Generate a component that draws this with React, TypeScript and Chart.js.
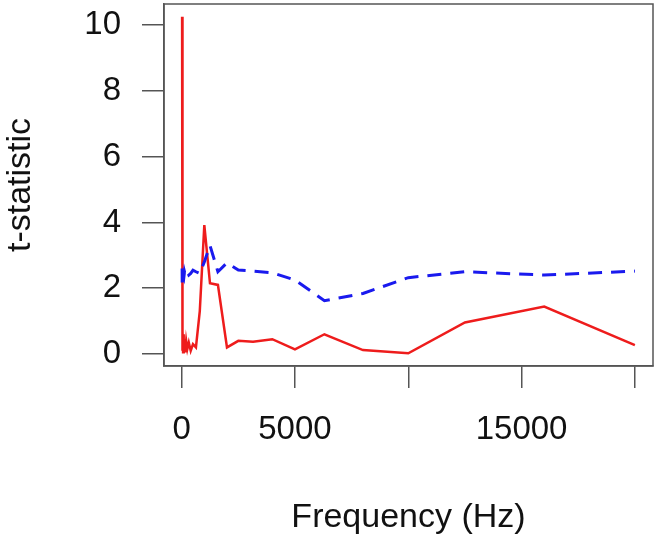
import React, { useEffect, useRef } from "react";
import { Chart, registerables } from "chart.js";

Chart.register(...registerables);

const frequencies = [20, 25, 31.5, 40, 50, 63, 80, 100, 125, 160, 200, 250, 315, 400, 500, 630, 800, 1000, 1250, 1600, 2000, 2500, 3150, 4000, 5000, 6300, 8000, 10000, 12500, 16000, 20000];
const redValues = [10.25, 0.9, 3.85, 0.1, 0.7, 0.05, 0.6, 0.1, 0.45, 0.05, 0.4, 0.15, 0.35, 0.1, 0.3, 0.2, 1.3, 3.92, 2.15, 2.1, 0.2, 0.4, 0.37, 0.45, 0.14, 0.6, 0.12, 0.02, 0.96, 1.44, 0.27];
const blueValues = [2.6, 2.15, 2.5, 2.2, 2.45, 2.3, 2.4, 2.35, 2.5, 2.4, 2.45, 2.5, 2.4, 2.45, 2.55, 2.5, 2.45, 2.8, 3.3, 2.5, 2.77, 2.55, 2.52, 2.47, 2.25, 1.62, 1.84, 2.32, 2.5, 2.4, 2.52];
const xTicks = [0, 5000, 10000, 15000, 20000];
const xTickLabels = ["0", "5000", "", "15000", ""];
const yTicks = [0, 2, 4, 6, 8, 10];

const boxPlugin = {
  id: "box",
  afterDraw(chart: any) {
    const { ctx, chartArea } = chart;
    ctx.save();
    ctx.strokeStyle = "#555";
    ctx.lineWidth = 1.5;
    ctx.strokeRect(chartArea.left, chartArea.top, chartArea.right - chartArea.left, chartArea.bottom - chartArea.top);
    ctx.restore();
  },
};

export default function App() {
  const ref = useRef<HTMLCanvasElement>(null);
  useEffect(() => {
    document.body.style.margin = "0";
    Chart.defaults.font.family = "'Liberation Sans', Arial, Helvetica, sans-serif";
    const chart = new Chart(ref.current!, {
      type: "line",
      data: {
        datasets: [
          {
            data: frequencies.map((f, i) => ({ x: f, y: blueValues[i] })),
            borderColor: "#1a1aee",
            borderWidth: 3,
            borderDash: [14, 9],
            pointRadius: 0,
            fill: false,
            tension: 0,
          },
          {
            data: frequencies.map((f, i) => ({ x: f, y: redValues[i] })),
            borderColor: "#ee1c1c",
            borderWidth: 2.5,
            pointRadius: 0,
            fill: false,
            tension: 0,
          },
        ],
      },
      options: {
        animation: false,
        responsive: false,
        layout: { padding: { top: 4, right: 4, left: 0, bottom: 0 } },
        plugins: { legend: { display: false }, tooltip: { enabled: false } },
        scales: {
          x: {
            type: "linear",
            min: -779.2,
            max: 20799.2,
            afterBuildTicks: (s: any) => {
              s.ticks = xTicks.map((v) => ({ value: v }));
            },
            afterFit: (s: any) => {
              s.height = 174;
              s.paddingLeft = 0;
              s.paddingRight = 0;
            },
            ticks: {
              autoSkip: false,
              maxRotation: 0,
              padding: 22,
              color: "#111",
              font: { size: 33 },
              callback: (v: any) => {
                const i = xTicks.indexOf(Number(v));
                return i >= 0 ? xTickLabels[i] : "";
              },
            },
            grid: { drawOnChartArea: false, drawTicks: true, tickLength: 22, color: "#555", lineWidth: 1.5 },
            border: { display: true, color: "#555", width: 1.5 },
            title: { display: true, text: "Frequency (Hz)", color: "#111", font: { size: 34 }, padding: { top: 0, bottom: 2 } },
          },
          y: {
            type: "linear",
            min: -0.365,
            max: 10.64,
            afterBuildTicks: (s: any) => {
              s.ticks = yTicks.map((v) => ({ value: v }));
            },
            afterFit: (s: any) => {
              s.width = 164;
              s.paddingTop = 0;
              s.paddingBottom = 0;
            },
            ticks: { padding: 21, color: "#111", font: { size: 33 } },
            grid: { drawOnChartArea: false, drawTicks: true, tickLength: 22, color: "#555", lineWidth: 1.5 },
            border: { display: true, color: "#555", width: 1.5 },
            title: { display: true, text: "t-statistic", color: "#111", font: { size: 34 }, padding: { top: 0, bottom: 0 } },
          },
        },
      },
      plugins: [boxPlugin],
    });
    return () => chart.destroy();
  }, []);
  return <canvas ref={ref} width={657} height={540} style={{ display: "block" }} />;
}
